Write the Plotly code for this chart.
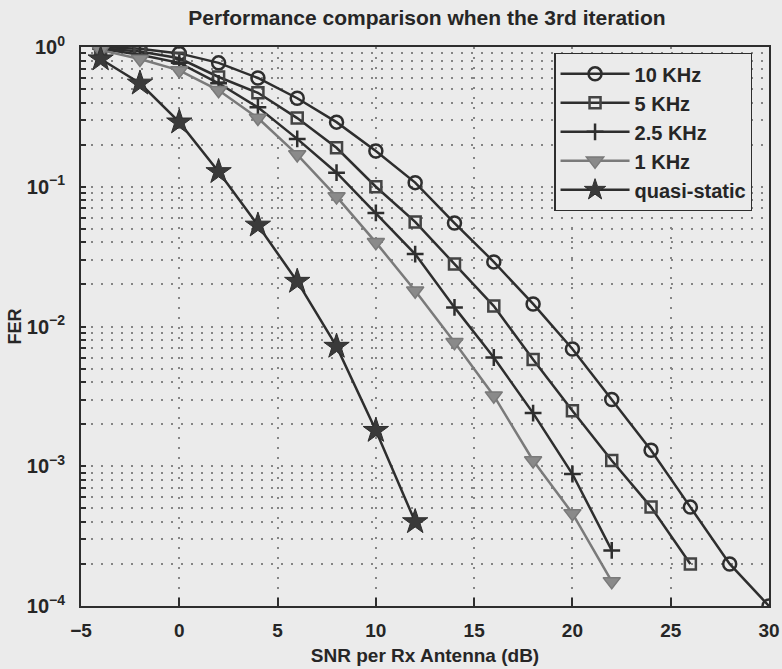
import plotly.graph_objects as go

snr_10k = [-4, -2, 0, 2, 4, 6, 8, 10, 12, 14, 16, 18, 20, 22, 24, 26, 28, 30]
fer_10k = [1.0, 0.97, 0.9, 0.77, 0.6, 0.43, 0.29, 0.18, 0.107, 0.055, 0.029, 0.0145, 0.0069, 0.003, 0.0013, 5.1e-4, 2.0e-4, 1.0e-4]

snr_5k = [-4, -2, 0, 2, 4, 6, 8, 10, 12, 14, 16, 18, 20, 22, 24, 26]
fer_5k = [0.98, 0.93, 0.83, 0.61, 0.47, 0.31, 0.19, 0.1, 0.056, 0.028, 0.014, 0.0058, 0.0025, 0.0011, 5.1e-4, 2.0e-4]

snr_2k5 = [-4, -2, 0, 2, 4, 6, 8, 10, 12, 14, 16, 18, 20, 22]
fer_2k5 = [0.97, 0.88, 0.77, 0.55, 0.37, 0.22, 0.126, 0.065, 0.033, 0.0137, 0.006, 0.0024, 8.8e-4, 2.5e-4]

snr_1k = [-4, -2, 0, 2, 4, 6, 8, 10, 12, 14, 16, 18, 20, 22]
fer_1k = [0.95, 0.82, 0.68, 0.49, 0.31, 0.17, 0.085, 0.04, 0.018, 0.0077, 0.0032, 0.0011, 4.6e-4, 1.5e-4]

snr_qs = [-4, -2, 0, 2, 4, 6, 8, 10, 12]
fer_qs = [0.82, 0.55, 0.29, 0.128, 0.053, 0.021, 0.0072, 0.0018, 4.0e-4]

x_ticks = [-5, 0, 5, 10, 15, 20, 25, 30]
x_labels = ["−5", "0", "5", "10", "15", "20", "25", "30"]
decades = [-4, -3, -2, -1, 0]

dark = "#2e2e2e"
gray = "#7a7a7a"
bg = "#ebebeb"
txt = "#262626"

fig = go.Figure()
series = [
    ("10 KHz", snr_10k, fer_10k, dark, dict(symbol="circle-open", size=13, color=dark, line=dict(width=2.5, color=dark))),
    ("5 KHz", snr_5k, fer_5k, dark, dict(symbol="square-open", size=11, color="#444444", line=dict(width=2.5, color="#444444"))),
    ("2.5 KHz", snr_2k5, fer_2k5, dark, dict(symbol="cross-thin-open", size=12, color=dark, line=dict(width=2.5, color=dark))),
    ("1 KHz", snr_1k, fer_1k, gray, dict(symbol="triangle-down", size=15, color="#8a8a8a", line=dict(width=1.5, color=gray))),
    ("quasi-static", snr_qs, fer_qs, dark, dict(symbol="star", size=19, color="#3a3a3a", line=dict(width=1, color=dark))),
]
for i, (name, x, y, col, mk) in enumerate(series):
    fig.add_trace(go.Scatter(x=x, y=y, name=f"<b>{name}</b>", mode="lines+markers",
                             legendgroup=f"g{i}",
                             line=dict(color=col, width=2.5), marker=mk))

# y ticks: all minor positions for grid, labels only at decades
yvals, ytext = [], []
for d in decades:
    for m in range(1, 10):
        if d == 0 and m > 1:
            break
        yvals.append(m * 10.0 ** d)
        ytext.append(f"<b>10<sup>{'−' if d < 0 else ''}{abs(d)}</sup></b>" if m == 1 else "")

fig.update_layout(
    width=782, height=669,
    paper_bgcolor=bg, plot_bgcolor=bg,
    margin=dict(l=81, r=13, t=47, b=63, autoexpand=False),
    font=dict(family="Liberation Sans, Arial", color=txt),
    title=dict(text="<b>Performance comparison when the 3rd iteration</b>",
               x=0.546, xanchor="center", y=0.985, yanchor="top",
               font=dict(size=21, color=txt)),
    showlegend=True,
    legend=dict(x=0.688, y=0.989, xanchor="left", yanchor="top",
                bgcolor=bg, bordercolor=dark, borderwidth=1.2,
                traceorder="grouped", tracegroupgap=0,
                font=dict(size=20, color=txt, family="Liberation Sans, Arial"),
                itemwidth=69),
    xaxis=dict(range=[-5, 30], tickvals=x_ticks,
               ticktext=[f"<b>{t}</b>" for t in x_labels],
               ticks="inside", ticklen=8, tickwidth=2, tickcolor=dark,
               ticklabelstandoff=6, automargin=False,
               showgrid=True, gridcolor="#858585", griddash="2px,8px", gridwidth=1.5,
               showline=True, linecolor=dark, linewidth=2, mirror=True,
               zeroline=False,
               tickfont=dict(size=19, color=txt),
               title=dict(text="<b>SNR per Rx Antenna (dB)</b>", font=dict(size=19, color=txt), standoff=9)),
    yaxis=dict(type="log", range=[-4, 0], tickvals=yvals, ticktext=ytext,
               ticks="inside", ticklen=5, tickwidth=2, tickcolor=dark,
               ticklabelstandoff=10, automargin=False,
               showgrid=True, gridcolor="#858585", griddash="2px,8px", gridwidth=1.5,
               showline=True, linecolor=dark, linewidth=2, mirror=True,
               zeroline=False,
               tickfont=dict(size=20, color=txt),
               title=dict(text="<b>FER</b>", font=dict(size=18, color=txt), standoff=0)),
)

fig.write_html("out.html")
